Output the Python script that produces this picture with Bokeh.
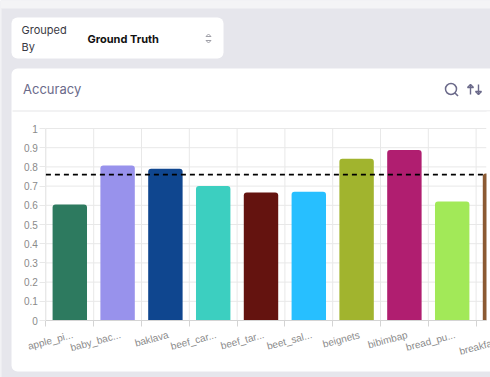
import math
from bokeh.embed import file_html
from bokeh.resources import INLINE
from bokeh.plotting import figure
from bokeh.models import (Range1d, LinearAxis, FixedTicker, BoxAnnotation, Label, PolyAnnotation,
                          AllLabels)

categories = ["apple_pi...", "baby_bac...", "baklava", "beef_car...", "beef_tar...",
              "beet_sal...", "beignets", "bibimbap", "bread_pu...", "breakfa"]
accuracy = [0.604, 0.807, 0.79, 0.70, 0.667, 0.67, 0.843, 0.888, 0.62, 0.765]
colors = ["#2d7a5f", "#9892ec", "#0f468f", "#3ccfc0", "#64130f",
          "#27bfff", "#a1b42e", "#b01e70", "#a2e958", "#8b5a33"]
mean_accuracy = 0.76
y_ticks = [0, 0.1, 0.2, 0.3, 0.4, 0.5, 0.6, 0.7, 0.8, 0.9, 1]
y_labels = ["0", "0.1", "0.2", "0.3", "0.4", "0.5", "0.6", "0.7", "0.8", "0.9", "1"]

W, H = 490, 377
PANEL = "#e6e6ec"
GRID = "#e8e8e8"
INK = "#6b6a8a"

BAND = 47.8
X0, Y0, YSCALE = 45.4, 320, 192
x_end_frame = (486 - X0) / BAND

p = figure(width=W, height=H, output_backend="svg", toolbar_location=None,
           x_range=Range1d(-X0 / BAND, (W - X0) / BAND),
           y_range=Range1d((Y0 - H) / YSCALE, Y0 / YSCALE),
           x_axis_location=None, y_axis_location=None,
           min_border=0,
           outline_line_color=None, background_fill_color=PANEL, border_fill_color=PANEL)


def box(l, t, r, b, fill="white", line=None, radius=0, lw=1, level="image"):
    p.add_layout(BoxAnnotation(left=l, right=r, top=t, bottom=b,
                               left_units="canvas", right_units="canvas",
                               top_units="canvas", bottom_units="canvas",
                               fill_color=fill, fill_alpha=1 if fill else 0, line_color=line,
                               line_alpha=1, line_width=lw, border_radius=radius, level=level,
                               editable=False))


def poly(xs, ys, color=INK, lw=1.4):
    p.add_layout(PolyAnnotation(xs=xs, ys=ys, xs_units="canvas", ys_units="canvas", fill_alpha=0,
                                line_color=color, line_alpha=1, line_width=lw, level="overlay"))


def label(x, y, text, size, color, style="normal", font="Inter", align="left"):
    p.add_layout(Label(x=x, y=y, x_units="canvas", y_units="canvas", text=text,
                       text_font=font, text_font_size=size, text_color=color,
                       text_font_style=style, text_align=align, text_baseline="middle"))


# page panels and cards
box(0, 0, 490, 8, fill="#f4f4f6")
box(0, 8, 1, 377, fill="#f4f4f6")
box(11, 17, 223, 58, radius=6)
box(11, 68, 500, 371, radius=6)
box(12, 110, 490, 111, fill="#e5e5e8")

label(21, 29, "Grouped", "11px", "#3a3a44")
label(21, 46, "By", "11px", "#3a3a44")
label(87, 38, "Ground Truth", "11px", "#111111", style="bold")
label(22.5, 88.5, "Accuracy", "13px", INK)

# select chevrons
poly([205.5, 208, 210.5], [36, 33.5, 36], color="#a0a0a8", lw=1)
poly([205.5, 208, 210.5], [40, 42.5, 40], color="#a0a0a8", lw=1)

# search icon
box(445, 83, 456, 94, fill=None, line=INK, radius=6, lw=1.5, level="overlay")
poly([454.5, 457.5], [92.5, 95.5], lw=1.6)
# sort icon
poly([470, 470], [84, 94], lw=1.4)
poly([467, 470, 473], [87, 84, 87], lw=1.4)
poly([478, 478], [84, 94], lw=1.4)
poly([475, 478, 481], [91, 94, 91], lw=1.4)

# axes and grid
band_edges = list(range(0, 10))
band_centers = [i + 0.5 for i in range(len(categories))]
label_ticks = [c + 0.06 for c in band_centers]

p.grid.visible = False
p.segment(x0=0, x1=x_end_frame, y0=y_ticks, y1=y_ticks, line_color=GRID, line_width=1, level="underlay")
p.segment(x0=band_edges, x1=band_edges, y0=0, y1=1, line_color=GRID, line_width=1, level="underlay")

yaxis = LinearAxis(ticker=FixedTicker(ticks=y_ticks), fixed_location=0, bounds=(0, 1),
                   axis_line_color=GRID,
                   major_tick_line_color=GRID, major_tick_in=0, major_tick_out=6,
                   minor_tick_line_color=None, major_label_text_color="#8a8a8a",
                   major_label_text_font="Liberation Sans", major_label_text_font_size="10px",
                   major_label_standoff=2,
                   major_label_overrides=dict(zip(y_ticks, y_labels)))
p.add_layout(yaxis, "left")

xaxis = LinearAxis(ticker=FixedTicker(ticks=band_edges), fixed_location=0,
                   bounds=(0, x_end_frame), axis_line_color="#d4d4d4",
                   major_tick_line_color="#d4d4d4", major_tick_in=0, major_tick_out=6,
                   minor_tick_line_color=None, major_label_text_font_size="0px",
                   major_label_standoff=0,
                   major_label_overrides={e: "" for e in band_edges})
p.add_layout(xaxis, "below")

label_axis = LinearAxis(ticker=FixedTicker(ticks=label_ticks), fixed_location=0,
                        axis_line_color=None,
                        major_tick_line_color=None, major_tick_in=0, major_tick_out=0,
                        minor_tick_line_color=None, major_label_text_color="#8a8a8a",
                        major_label_text_font="Liberation Sans",
                        major_label_text_font_size="10px", major_label_standoff=14,
                        major_label_orientation=math.radians(15),
                        major_label_policy=AllLabels(),
                        major_label_overrides=dict(zip(label_ticks, categories)))
p.add_layout(label_axis, "below")

# the last category's anchor lies past the page edge, so its label is set from its left end
p.add_layout(Label(x=459, y=351, x_units="canvas", y_units="canvas", text=categories[-1],
                   text_font="Liberation Sans", text_font_size="10px", text_color="#8a8a8a",
                   text_align="left", text_baseline="alphabetic", angle=15, angle_units="deg"))

p.vbar(x=band_centers, width=0.72, top=accuracy, bottom=0, fill_color=colors, line_color=None,
       border_radius=(3, 3, 0, 0))

p.line(x=[0, x_end_frame], y=[mean_accuracy, mean_accuracy], line_color="black",
       line_width=1.8, line_dash="5 4", level="annotation")

# the chart area ends before the card does
box(486, 111, 490, 330, level="annotation")

open("out.html", "w").write(file_html(p, INLINE))
